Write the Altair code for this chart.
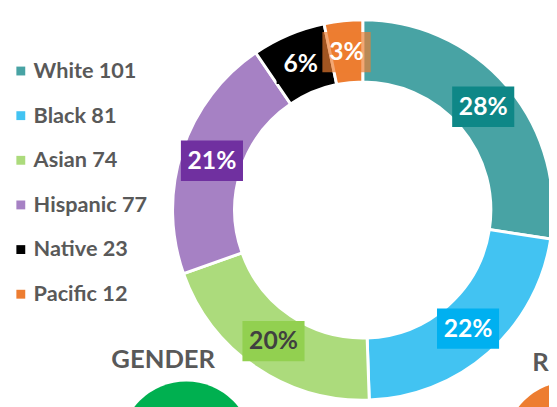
import math
import altair as alt
import pandas as pd

# ---- data ----
categories = ["White", "Black", "Asian", "Hispanic", "Native", "Pacific"]
counts = [101, 81, 74, 77, 23, 12]
pct_labels = ["28%", "22%", "20%", "21%", "6%", "3%"]
slice_colors = ["#48a3a4", "#42c3f2", "#acdb7c", "#a681c4", "#000000", "#ed7d31"]
box_colors = ["#0e8787", "#00b0f0", "#92d050", "#7030a0", "#000000", "#ed7d31"]
box_opacity = [1, 1, 1, 1, 1, 0.68]
text_colors = ["#ffffff", "#ffffff", "#404040", "#ffffff", "#ffffff", "#ffffff"]

section_titles = ["GENDER", "R"]
section_colors = ["#00b050", "#ed7d31"]

# ---- layout ----
FONT = "Lato"
OFF = 8
CX, CY = 368 - OFF, 210 - OFF
R_OUT, R_IN, R_LAB = 193, 130, 161
W, H = 557 - OFF, 407 - OFF

legend_labels = [f"{c} {n}" for c, n in zip(categories, counts)]
df = pd.DataFrame({
    "cat": categories,
    "n": counts,
    "pct": pct_labels,
    "legend": legend_labels,
    "idx": list(range(len(categories))),
    "box": box_colors,
    "bop": box_opacity,
    "tc": text_colors,
})

arcs = alt.Chart(df).mark_arc(
    outerRadius=R_OUT, innerRadius=R_IN, stroke="white", strokeWidth=3
).encode(
    theta=alt.Theta("n:Q", stack=True),
    order=alt.Order("idx:Q"),
    color=alt.Color(
        "legend:N",
        scale=alt.Scale(domain=legend_labels, range=slice_colors),
        legend=alt.Legend(
            title=None, orient="none", legendX=2, legendY=50,
            symbolType="square", symbolSize=81, symbolStrokeWidth=0,
            symbolOpacity=1,
            labelFont=FONT, labelFontSize=22, labelFontWeight="bold",
            labelColor="#595959", labelOffset=2, rowPadding=23.3, padding=0,
        ),
    ),
    x=alt.value(CX),
    y=alt.value(CY),
)

lab = alt.Chart(df).transform_joinaggregate(
    total="sum(n)"
).transform_window(
    cum="sum(n)", sort=[alt.SortField("idx")], frame=[None, 0]
).transform_calculate(
    mid="(datum.cum - datum.n/2)/datum.total*2*PI",
).transform_calculate(
    px=f"{CX} + {R_LAB}*sin(datum.mid)",
    py=f"{CY} - {R_LAB}*cos(datum.mid)",
    bw="length(datum.pct)*14 + 21",
).transform_calculate(
    x1="datum.px - datum.bw/2",
    x2="datum.px + datum.bw/2",
    y1="datum.py - 20.5",
    y2="datum.py + 20.5",
)

boxes = lab.mark_rect().encode(
    x=alt.X("x1:Q", scale=None, axis=None),
    x2="x2:Q",
    y=alt.Y("y1:Q", scale=None, axis=None),
    y2="y2:Q",
    fill=alt.Fill("box:N", scale=None),
    opacity=alt.Opacity("bop:Q", scale=None),
)

texts = lab.mark_text(
    font=FONT, fontSize=25, fontWeight="bold", align="center", baseline="middle"
).encode(
    x=alt.X("px:Q", scale=None, axis=None),
    y=alt.Y("py:Q", scale=None, axis=None),
    text="pct:N",
    fill=alt.Fill("tc:N", scale=None),
)

# section decorations (other panels of the infographic, cropped)
title_pos = [(165.5 - OFF, 362 - OFF, "center"), (540 - OFF, 365 - OFF, "left")]
circle_pos = [(189 - OFF, 451 - OFF), (579 - OFF, 451 - OFF)]
CIRCLE_SIZE = math.pi * 75.5 ** 2

decor = []
for t, col, (tx, ty, al), (ccx, ccy) in zip(section_titles, section_colors, title_pos, circle_pos):
    d = pd.DataFrame({"t": [t]})
    decor.append(alt.Chart(d).mark_circle(size=CIRCLE_SIZE, opacity=1).encode(
        x=alt.value(ccx), y=alt.value(ccy), color=alt.value(col)))
    decor.append(alt.Chart(d).mark_text(
        font=FONT, fontSize=26, fontWeight="bold", align=al, baseline="middle",
        color="#595959").encode(text="t:N", x=alt.value(tx), y=alt.value(ty)))

chart = alt.layer(*decor, arcs, boxes, texts).resolve_scale(
    fill="independent", opacity="independent"
).properties(
    width=W, height=H, autosize=alt.AutoSizeParams(type="none"), padding=0
).configure_view(stroke=None)

chart.save("out.html", embed_options={"renderer": "svg", "actions": False})
